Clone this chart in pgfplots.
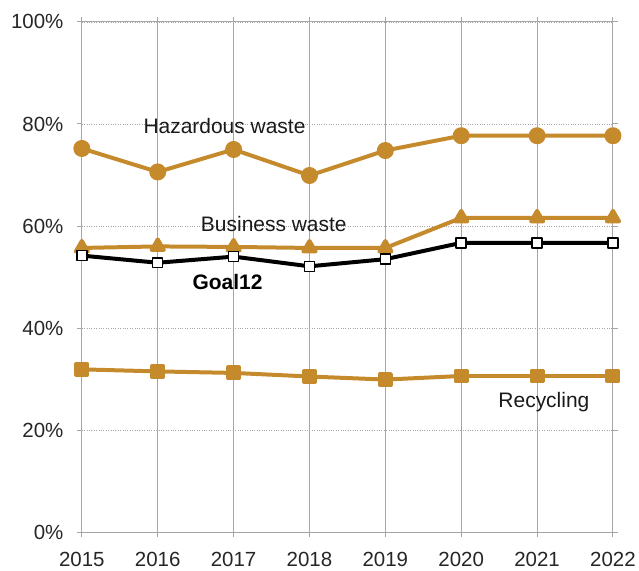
\documentclass[border=0pt]{standalone}
\usepackage{pgfplots}
\pgfplotsset{compat=1.18}
\usepackage{fontspec}
\setmainfont{Liberation Sans}
\definecolor{gold}{HTML}{C48A2C}
\definecolor{gridg}{HTML}{A6A6A6}
\begin{document}
\begin{tikzpicture}[x=1pt,y=1pt]
\begin{axis}[
  scale only axis, width=532pt, height=511pt,
  xmin=2015, xmax=2022, ymin=0, ymax=100,
  xtick={2015,...,2022},
  xticklabel style={/pgf/number format/1000 sep={}, yshift=-12pt},
  yticklabel style={xshift=-10pt},
  ytick={0,20,...,100},
  yticklabel={\pgfmathprintnumber{\tick}\%},
  /pgf/number format/assume math mode=true,
  tick label style={font=\fontsize{20.5}{22}\selectfont, text=black!85},
  tick align=outside, major tick length=5pt,
  tick style={gridg, line width=1pt},
  axis line style={gridg, line width=1pt},
  xmajorgrids, ymajorgrids,
  x grid style={gridg, line width=0.9pt},
  y grid style={gridg, dotted, line width=0.8pt},
  clip=false,
  every axis plot/.append style={line width=4pt, line join=round},
]
\addplot[gold, mark=*, mark size=6.5pt] coordinates {
(2015,75.2)(2016,70.6)(2017,75.0)(2018,69.9)(2019,74.8)(2020,77.7)(2021,77.7)(2022,77.7)};
\addplot[gold, mark=triangle*, mark size=7pt] coordinates {
(2015,55.7)(2016,56.0)(2017,55.9)(2018,55.7)(2019,55.7)(2020,61.6)(2021,61.6)(2022,61.6)};
\addplot[black, mark=square*, mark size=5pt, mark options={fill=white, line width=1.5pt}] coordinates {
(2015,54.2)(2016,52.8)(2017,54.0)(2018,52.1)(2019,53.5)(2020,56.7)(2021,56.7)(2022,56.7)};
\addplot[gold, mark=square*, mark size=5.5pt] coordinates {
(2015,31.9)(2016,31.5)(2017,31.2)(2018,30.5)(2019,29.9)(2020,30.6)(2021,30.6)(2022,30.6)};
\node[font=\fontsize{21}{23}\selectfont, text=black!90] at (axis cs:2016.88,79.6) {Hazardous waste};
\node[font=\fontsize{21}{23}\selectfont, text=black!90] at (axis cs:2017.53,60.3) {Business waste};
\node[font=\bfseries\fontsize{21}{23}\selectfont] at (axis cs:2016.92,49.1) {Goal12};
\node[font=\fontsize{21}{23}\selectfont, text=black!90] at (axis cs:2021.09,25.4) {Recycling};
\end{axis}
\path[use as bounding box] (-82,-34) rectangle (557,533);
\end{tikzpicture}
\end{document}
